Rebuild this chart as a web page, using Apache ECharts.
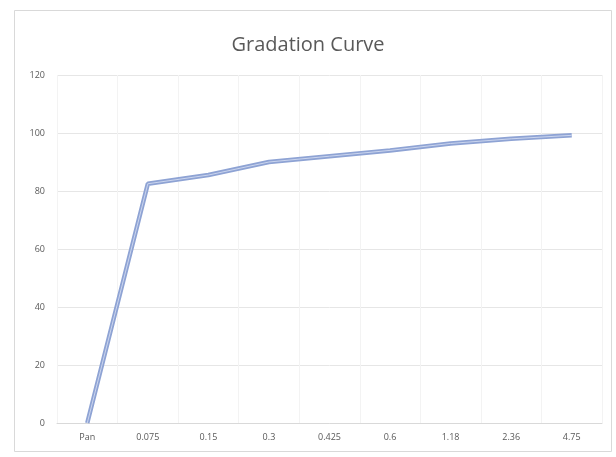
<!DOCTYPE html>
<html>
<head>
<meta charset="utf-8">
<script src="https://cdn.jsdelivr.net/npm/echarts@6/dist/echarts.min.js"></script>
<style>
html,body{margin:0;padding:0;background:#fff;}
#chart{width:616px;height:457px;}
</style>
</head>
<body>
<div id="chart"></div>
<script>
const categories = ['Pan', '0.075', '0.15', '0.3', '0.425', '0.6', '1.18', '2.36', '4.75'];
const passing = [0, 82.5, 85.5, 90, 92, 94, 96.4, 98, 99.2];
const yTicks = { min: 0, max: 120, interval: 20 };

const chart = echarts.init(document.getElementById('chart'), null, { renderer: 'canvas' });
chart.setOption({
  backgroundColor: '#ffffff',
  animation: false,
  title: {
    text: 'Gradation Curve',
    left: 'center',
    top: 30,
    textStyle: { fontFamily: 'Open Sans', fontSize: 20, fontWeight: 'normal', color: '#595959' }
  },
  graphic: [{
    type: 'rect',
    shape: { x: 14.5, y: 10.5, width: 597, height: 441 },
    style: { fill: 'none', stroke: '#D9D9D9', lineWidth: 1 },
    silent: true
  }],
  grid: { left: 57, right: 14, top: 75, bottom: 34, containLabel: false },
  xAxis: {
    type: 'category',
    data: categories,
    boundaryGap: true,
    axisLine: { show: true, lineStyle: { color: '#D9D9D9', width: 1 } },
    axisTick: { show: false },
    axisLabel: { color: '#595959', fontSize: 9, fontFamily: 'Open Sans', margin: 10 },
    splitLine: { show: true, lineStyle: { color: '#F3F3F3', width: 1 } }
  },
  yAxis: {
    type: 'value',
    min: yTicks.min,
    max: yTicks.max,
    interval: yTicks.interval,
    axisLine: { show: false },
    axisTick: { show: false },
    axisLabel: { color: '#595959', fontSize: 9, fontFamily: 'Open Sans', margin: 12 },
    splitLine: { show: true, lineStyle: { color: '#E6E6E6', width: 1 } }
  },
  series: [
    {
      type: 'line',
      data: passing,
      symbol: 'none',
      lineStyle: { color: '#8EA3D4', width: 4.5 },
      z: 2
    },
    {
      type: 'line',
      data: passing,
      symbol: 'none',
      lineStyle: { color: '#CBD5EE', width: 1 },
      z: 3
    }
  ]
});
</script>
</body>
</html>
